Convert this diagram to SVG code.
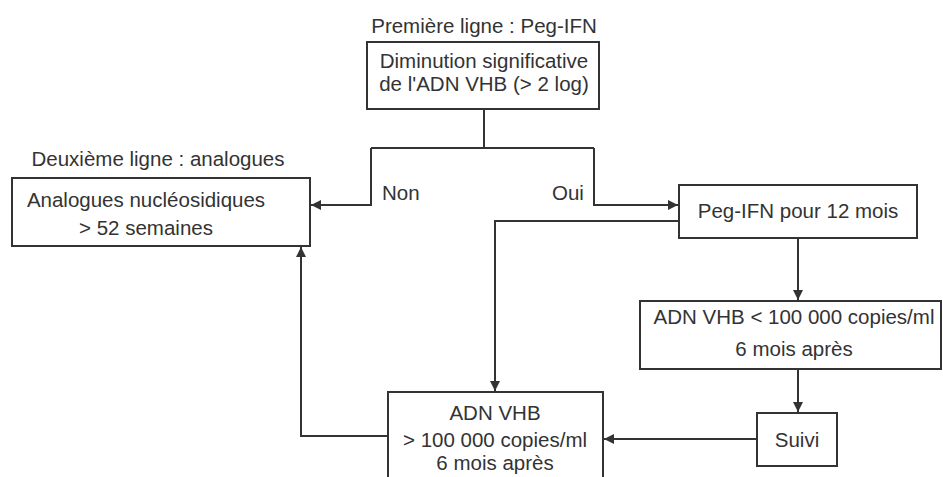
<svg xmlns="http://www.w3.org/2000/svg" width="943" height="477" viewBox="0 0 943 477">
<defs>
<style>
.box{fill:#fff;stroke:#333;stroke-width:2}
.t{font-family:"Liberation Sans",Arial,sans-serif;font-size:20.5px;fill:#333;text-anchor:middle}
.l{font-family:"Liberation Sans",Arial,sans-serif;font-size:20.5px;fill:#333}
.c{fill:none;stroke:#333;stroke-width:2}
</style>
<marker id="ah" viewBox="0 0 10 10" refX="10" refY="5" markerWidth="10" markerHeight="10" markerUnits="userSpaceOnUse" orient="auto">
<path d="M0,0 L10,5 L0,10 z" fill="#333"/>
</marker>
</defs>
<rect width="943" height="477" fill="#fff"/>
<g id="connectors">
<path class="c" d="M484,109 V148"/>
<path class="c" d="M371,148 H594"/>
<path class="c" d="M371,148 V205 H311" marker-end="url(#ah)"/>
<path class="c" d="M594,148 V205 H678" marker-end="url(#ah)"/>
<path class="c" d="M679,221 H495 V391" marker-end="url(#ah)"/>
<path class="c" d="M798,238 V300" marker-end="url(#ah)"/>
<path class="c" d="M798,369 V412" marker-end="url(#ah)"/>
<path class="c" d="M757,439 H604" marker-end="url(#ah)"/>
<path class="c" d="M388,436 H301 V247" marker-end="url(#ah)"/>
</g>
<g id="labels">
<text class="l" x="382" y="200">Non</text>
<text class="l" x="552" y="200">Oui</text>
</g>
<g id="n1">
<text class="t" x="484" y="33">Première ligne : Peg-IFN</text>
<rect class="box" x="367" y="42" width="232" height="67"/>
<text class="t" x="484" y="68">Diminution significative</text>
<text class="t" x="484" y="91">de l'ADN VHB (&gt; 2 log)</text>
</g>
<g id="n2">
<text class="t" x="158" y="166">Deuxième ligne : analogues</text>
<rect class="box" x="12" y="178" width="298" height="68"/>
<text class="t" x="146" y="207">Analogues nucléosidiques</text>
<text class="t" x="146" y="235">&gt; 52 semaines</text>
</g>
<g id="n3">
<rect class="box" x="679" y="185" width="238" height="53"/>
<text class="t" x="798" y="218">Peg-IFN pour 12 mois</text>
</g>
<g id="n4">
<rect class="box" x="640" y="301" width="301" height="68"/>
<text class="t" x="794" y="324">ADN VHB &lt; 100 000 copies/ml</text>
<text class="t" x="794" y="356">6 mois après</text>
</g>
<g id="n5">
<rect class="box" x="757" y="413" width="80" height="53"/>
<text class="t" x="797" y="447">Suivi</text>
</g>
<g id="n6">
<rect class="box" x="388" y="392" width="215" height="90"/>
<text class="t" x="495" y="420">ADN VHB</text>
<text class="t" x="495" y="447">&gt; 100 000 copies/ml</text>
<text class="t" x="495" y="470">6 mois après</text>
</g>
</svg>
